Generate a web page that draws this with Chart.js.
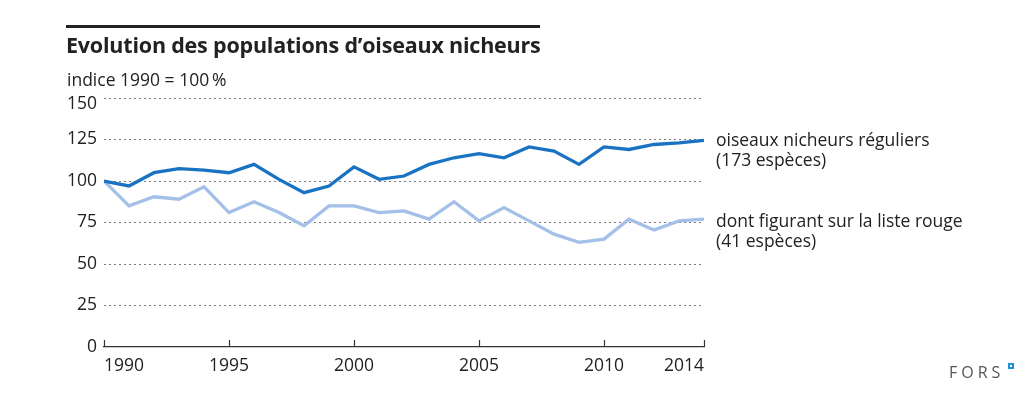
<!DOCTYPE html>
<html>
<head>
<meta charset="utf-8">
<script src="https://cdn.jsdelivr.net/npm/chart.js@4"></script>
<style>
  html,body{margin:0;padding:0;background:#fff;}
  #wrap{position:relative;width:1035px;height:399px;overflow:hidden;font-family:"Open Sans",sans-serif;color:#222;}
  #c{position:absolute;left:0;top:0;}
  .t{position:absolute;white-space:nowrap;}
  #rule{position:absolute;left:66px;top:25px;width:474px;height:3px;background:#222;}
  #title{left:66px;top:30px;font-size:21.5px;font-weight:bold;letter-spacing:-0.2px;}
  #sub{left:67px;top:67px;font-size:17.5px;}
  .lab{font-size:17.5px;line-height:20px;}
  #lab1{left:716px;top:129px;}
  #lab2{left:716px;top:210px;}
  #fors{left:949px;top:361px;font-size:16px;letter-spacing:4px;color:#555;}
  #sq{position:absolute;left:1008px;top:363px;width:2px;height:2px;border:2px solid #1f8fd8;background:#fff;}
</style>
</head>
<body>
<div id="wrap">
  <canvas id="c" width="1035" height="399"></canvas>
  <div id="rule"></div>
  <div class="t" id="title">Evolution des populations d’oiseaux nicheurs</div>
  <div class="t" id="sub">indice 1990 = 100&#8201;%</div>
  <div class="t lab" id="lab1">oiseaux nicheurs réguliers<br>(173 espèces)</div>
  <div class="t lab" id="lab2">dont figurant sur la liste rouge<br>(41 espèces)</div>
  <div class="t" id="fors">FORS</div>
  <div id="sq"></div>
</div>
<script>
const years = [1990,1991,1992,1993,1994,1995,1996,1997,1998,1999,2000,2001,2002,2003,2004,2005,2006,2007,2008,2009,2010,2011,2012,2013,2014];
const nicheursReguliers = [100,97,105,107.5,106.5,105,110,101,93,97,108.5,101,103,110,114,116.5,114,120.5,118,110,120.5,119,122,123,124.5];
const listeRouge = [100,85,90.5,89,96.5,81,87.5,81,73,85,85,81,82,77,87.5,76,84,76,68,63,65,77,70.5,76,77];
const xTickValues = [1990,1995,2000,2005,2010,2014];
const yTickValues = [0,25,50,75,100,125,150];

const DARK = '#1a73c2';
const LIGHT = '#a4c0e8';
const TICK_FONT = '17.5px "Open Sans"';

const upTicks = {
  id:'upTicks',
  afterDraw(chart){
    const ctx = chart.ctx, xs = chart.scales.x, ys = chart.scales.y, b = chart.chartArea.bottom;
    ctx.save();
    ctx.strokeStyle = '#333';
    ctx.lineWidth = 1.2;
    xTickValues.forEach(v=>{
      const px = Math.round(xs.getPixelForValue(v)) + 0.5;
      ctx.beginPath(); ctx.moveTo(px,b); ctx.lineTo(px,b-7); ctx.stroke();
    });
    // top y label sits just below its gridline
    const top = yTickValues[yTickValues.length-1];
    ctx.font = TICK_FONT;
    ctx.fillStyle = '#222';
    ctx.textAlign = 'right';
    ctx.textBaseline = 'middle';
    ctx.fillText(String(top), chart.chartArea.left - 7, ys.getPixelForValue(top) + 6);
    ctx.restore();
  }
};

new Chart(document.getElementById('c'), {
  type:'line',
  data:{
    datasets:[
      {data: years.map((y,i)=>({x:y,y:nicheursReguliers[i]})), borderColor:DARK, borderWidth:3.3, pointRadius:0, tension:0, order:1},
      {data: years.map((y,i)=>({x:y,y:listeRouge[i]})), borderColor:LIGHT, borderWidth:3.3, pointRadius:0, tension:0, order:2}
    ]
  },
  options:{
    responsive:false,
    animation:false,
    events:[],
    layout:{padding:{top:98,right:331,bottom:0,left:0}},
    plugins:{legend:{display:false},tooltip:{enabled:false},title:{display:false}},
    scales:{
      x:{
        type:'linear', min:1990, max:2014,
        afterBuildTicks(s){ s.ticks = xTickValues.map(v=>({value:v})); },
        afterFit(s){ s.height = 52; },
        grid:{display:true, drawOnChartArea:false, drawTicks:false},
        border:{display:true, color:'#333', width:1.3},
        ticks:{align:'inner', padding:9, color:'#222', font:{family:'"Open Sans"', size:17.5}, maxRotation:0, autoSkip:false, callback:v=>String(v)}
      },
      y:{
        min:0, max:150,
        afterBuildTicks(s){ s.ticks = yTickValues.map(v=>({value:v})); },
        afterFit(s){ s.width = 104; },
        grid:{drawTicks:false, color:ctx=> ctx.tick && ctx.tick.value===0 ? 'rgba(0,0,0,0)' : '#7a7a7a', lineWidth:1},
        border:{display:false, dash:[2,3]},
        ticks:{padding:7, color:'#222', font:{family:'"Open Sans"', size:17.5}, callback:v=> v===150 ? '' : String(v)}
      }
    }
  },
  plugins:[upTicks]
});
</script>
</body>
</html>
